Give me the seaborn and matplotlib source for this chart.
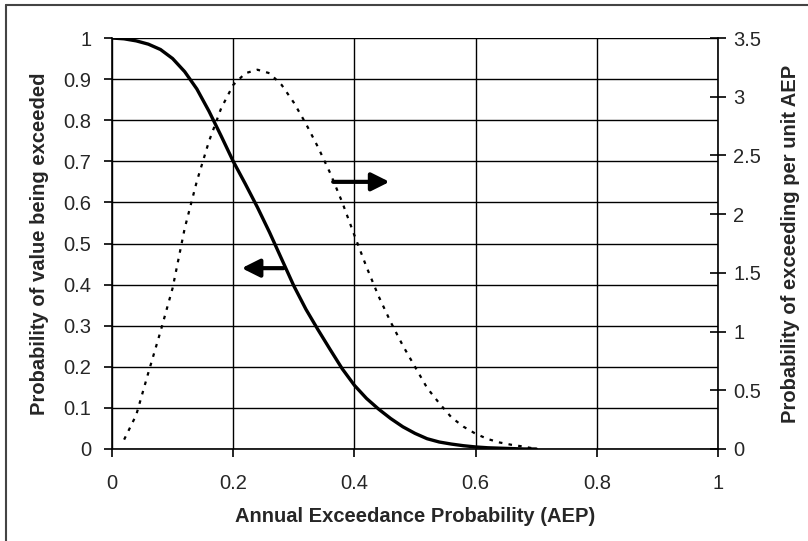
import numpy as np
import pandas as pd
import matplotlib
matplotlib.use("Agg")
import matplotlib.pyplot as plt
import seaborn as sns

# ---- data ----
aep_solid = [0.00, 0.02, 0.04, 0.06, 0.08, 0.10, 0.12, 0.14, 0.16, 0.18, 0.20,
             0.22, 0.24, 0.26, 0.28, 0.30, 0.32, 0.34, 0.36, 0.38, 0.40, 0.42,
             0.44, 0.46, 0.48, 0.50, 0.52, 0.54, 0.56, 0.58, 0.60, 0.62, 0.64,
             0.66, 0.68, 0.70]
prob_exceeded = [1.000, 0.998, 0.993, 0.985, 0.972, 0.950, 0.918, 0.876, 0.822,
                 0.762, 0.700, 0.645, 0.588, 0.527, 0.462, 0.397, 0.340, 0.290,
                 0.242, 0.195, 0.155, 0.123, 0.097, 0.074, 0.054, 0.038, 0.025,
                 0.017, 0.012, 0.008, 0.005, 0.003, 0.002, 0.001, 0.000, 0.000]

aep_dotted = [0.02, 0.04, 0.06, 0.08, 0.10, 0.12, 0.14, 0.16, 0.18, 0.20, 0.22,
              0.24, 0.26, 0.28, 0.30, 0.32, 0.34, 0.36, 0.38, 0.40, 0.42, 0.44,
              0.46, 0.48, 0.50, 0.52, 0.54, 0.56, 0.58, 0.60, 0.62, 0.64, 0.66,
              0.68, 0.70]
prob_per_unit = [0.08, 0.29, 0.65, 1.00, 1.37, 1.88, 2.28, 2.62, 2.90, 3.10,
                 3.20, 3.23, 3.20, 3.10, 2.95, 2.77, 2.57, 2.35, 2.10, 1.82,
                 1.55, 1.30, 1.08, 0.88, 0.70, 0.52, 0.39, 0.27, 0.19, 0.13,
                 0.085, 0.055, 0.035, 0.02, 0.0]

x_ticks = [0, 0.2, 0.4, 0.6, 0.8, 1]
x_tick_labels = ["0", "0.2", "0.4", "0.6", "0.8", "1"]
left_ticks = [0, 0.1, 0.2, 0.3, 0.4, 0.5, 0.6, 0.7, 0.8, 0.9, 1]
left_tick_labels = ["0", "0.1", "0.2", "0.3", "0.4", "0.5", "0.6", "0.7", "0.8", "0.9", "1"]
right_ticks = [0, 0.5, 1, 1.5, 2, 2.5, 3, 3.5]
right_tick_labels = ["0", "0.5", "1", "1.5", "2", "2.5", "3", "3.5"]

x_label = "Annual Exceedance Probability (AEP)"
left_label = "Probability of value being exceeded"
right_label = "Probability of exceeding per unit AEP"

# arrows: (start, end) in left-axis data coords
arrow_right = ((0.365, 0.65), (0.458, 0.65))
arrow_left = ((0.283, 0.44), (0.214, 0.44))

df_solid = pd.DataFrame({"AEP": aep_solid, "P": prob_exceeded})
df_dot = pd.DataFrame({"AEP": aep_dotted, "D": prob_per_unit})

sns.set_theme(style="white")
plt.rcParams["font.family"] = ["Liberation Sans", "DejaVu Sans"]

fig = plt.figure(figsize=(8.08, 5.41), dpi=100)
ax = fig.add_axes([112 / 808, 1 - 449 / 541, 606 / 808, 411 / 541])
ax2 = ax.twinx()

sns.lineplot(data=df_solid, x="AEP", y="P", ax=ax, color="black", linewidth=2.4,
             zorder=5)
sns.lineplot(data=df_dot, x="AEP", y="D", ax=ax2, color="black", linewidth=1.6,
             linestyle=(0, (1.6, 2.8)), zorder=5)

ax.set_xlim(0, 1)
ax.set_ylim(0, 1)
ax2.set_ylim(0, 3.5)

ax.set_xticks(x_ticks)
ax.set_xticklabels(x_tick_labels)
ax.set_yticks(left_ticks)
ax.set_yticklabels(left_tick_labels)
ax2.set_yticks(right_ticks)
ax2.set_yticklabels(right_tick_labels)

ax.grid(True, color="black", linewidth=1.0)
ax.set_axisbelow(True)
ax2.grid(False)

for a in (ax, ax2):
    for s in a.spines.values():
        s.set_visible(False)
ax.spines["left"].set_visible(True)
ax.spines["bottom"].set_visible(True)
ax2.spines["right"].set_visible(True)
for s in (ax.spines["left"], ax.spines["bottom"], ax2.spines["right"]):
    s.set_color("black")
    s.set_linewidth(1.2)

fs_tick = 14.5
ax.tick_params(axis="x", direction="out", length=6, width=1.2, color="black",
               labelsize=fs_tick, pad=12, bottom=True)
ax.tick_params(axis="y", direction="out", length=6, width=1.2, color="black",
               labelsize=fs_tick, pad=9, left=True)
ax2.tick_params(axis="y", direction="inout", length=12, width=1.2, color="black",
                labelsize=fs_tick, pad=5, right=True)

ax.set_xlabel(x_label, fontsize=14.5, fontweight="bold", labelpad=10)
ax.set_ylabel(left_label, fontsize=14.5, fontweight="bold", labelpad=10)
ax2.set_ylabel(right_label, fontsize=14.5, fontweight="bold", labelpad=14)

arrow_props = dict(arrowstyle="-|>,head_length=0.9,head_width=0.45",
                   color="black", lw=3.0, shrinkA=0, shrinkB=0)
for (start, end) in (arrow_right, arrow_left):
    ax.annotate("", xy=end, xytext=start, xycoords="data", textcoords="data",
                arrowprops=arrow_props, zorder=10)

# partial frame around the figure (left and top edges)
fig.add_artist(plt.Line2D([6 / 808, 6 / 808], [0, 1 - 5 / 541],
                          transform=fig.transFigure, color="#444444", lw=1.5))
fig.add_artist(plt.Line2D([6 / 808, 1], [1 - 5 / 541, 1 - 5 / 541],
                          transform=fig.transFigure, color="#444444", lw=1.5))

fig.savefig("out.png", dpi=100)
